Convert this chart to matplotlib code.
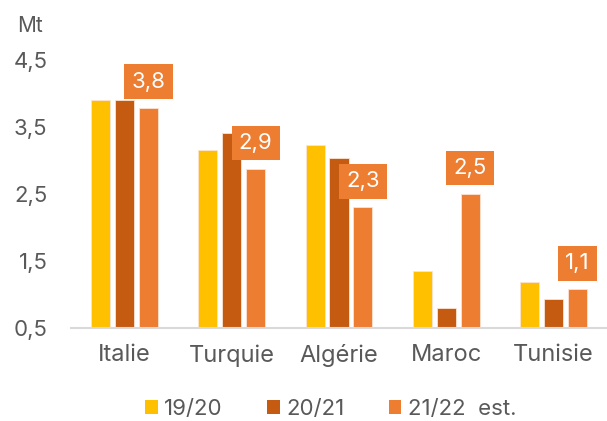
import numpy as np
import matplotlib.pyplot as plt
from matplotlib.patches import Patch

plt.rcParams['font.family'] = ['Inter', 'DejaVu Sans']

# Data
pays = ['Italie', 'Turquie', 'Algérie', 'Maroc', 'Tunisie']
v1920 = [3.91, 3.16, 3.23, 1.34, 1.18]
v2021 = [3.91, 3.41, 3.04, 0.79, 0.93]
v2122 = [3.79, 2.87, 2.30, 2.50, 1.07]
series_labels = ['19/20', '20/21', '21/22  est.']
colors = ['#FFC000', '#C55A11', '#ED7D31']
grey = '#595959'

fig = plt.figure(figsize=(6.07, 4.21), dpi=100)
ax = fig.add_axes([0.117, 0.222, 0.883, 0.635])

x = np.arange(len(pays))
w = 0.178
step = 0.223
for i, (vals, c) in enumerate(zip([v1920, v2021, v2122], colors)):
    ax.bar(x + (i - 1) * step, np.array(vals) - 0.5, w, bottom=0.5,
           color=c, edgecolor='#FBE3D3', linewidth=0.6, zorder=2)

# value labels on the estimate bars
for xi, v in zip(x, v2122):
    ax.annotate(f'{v:.1f}'.replace('.', ','), (xi + step, v),
                xytext=(0, 26), textcoords='offset pixels',
                ha='center', va='center', fontsize=16, color='white',
                bbox=dict(boxstyle='square,pad=0.33', fc='#ED7D31', ec='none'),
                annotation_clip=False, zorder=3)

ax.set_xlim(-0.5, 4.5)
ax.set_ylim(0.5, 4.5)
ax.set_yticks([0.5, 1.5, 2.5, 3.5, 4.5])
ax.set_yticklabels(['0,5', '1,5', '2,5', '3,5', '4,5'])
ax.set_xticks(x)
ax.set_xticklabels(pays)
ax.tick_params(axis='y', length=0, pad=17, labelsize=16, labelcolor=grey)
ax.tick_params(axis='x', length=0, pad=12, labelsize=17, labelcolor=grey)
for s in ['top', 'right', 'left']:
    ax.spines[s].set_visible(False)
ax.spines['bottom'].set_color('#D9D9D9')
ax.spines['bottom'].set_linewidth(1.5)

fig.text(17 / 607, 1 - 26 / 421, 'Mt', fontsize=15, color=grey, va='center')

handles = [Patch(facecolor=c, edgecolor='none') for c in colors]
fig.legend(handles, series_labels, loc='center', bbox_to_anchor=(0.545, 1 - 409 / 421),
           ncol=3, frameon=False, fontsize=16, labelcolor=grey, borderpad=0.1,
           handlelength=0.55, handleheight=0.55, handletextpad=0.3, columnspacing=2.0)

fig.savefig('out.png', dpi=100)
